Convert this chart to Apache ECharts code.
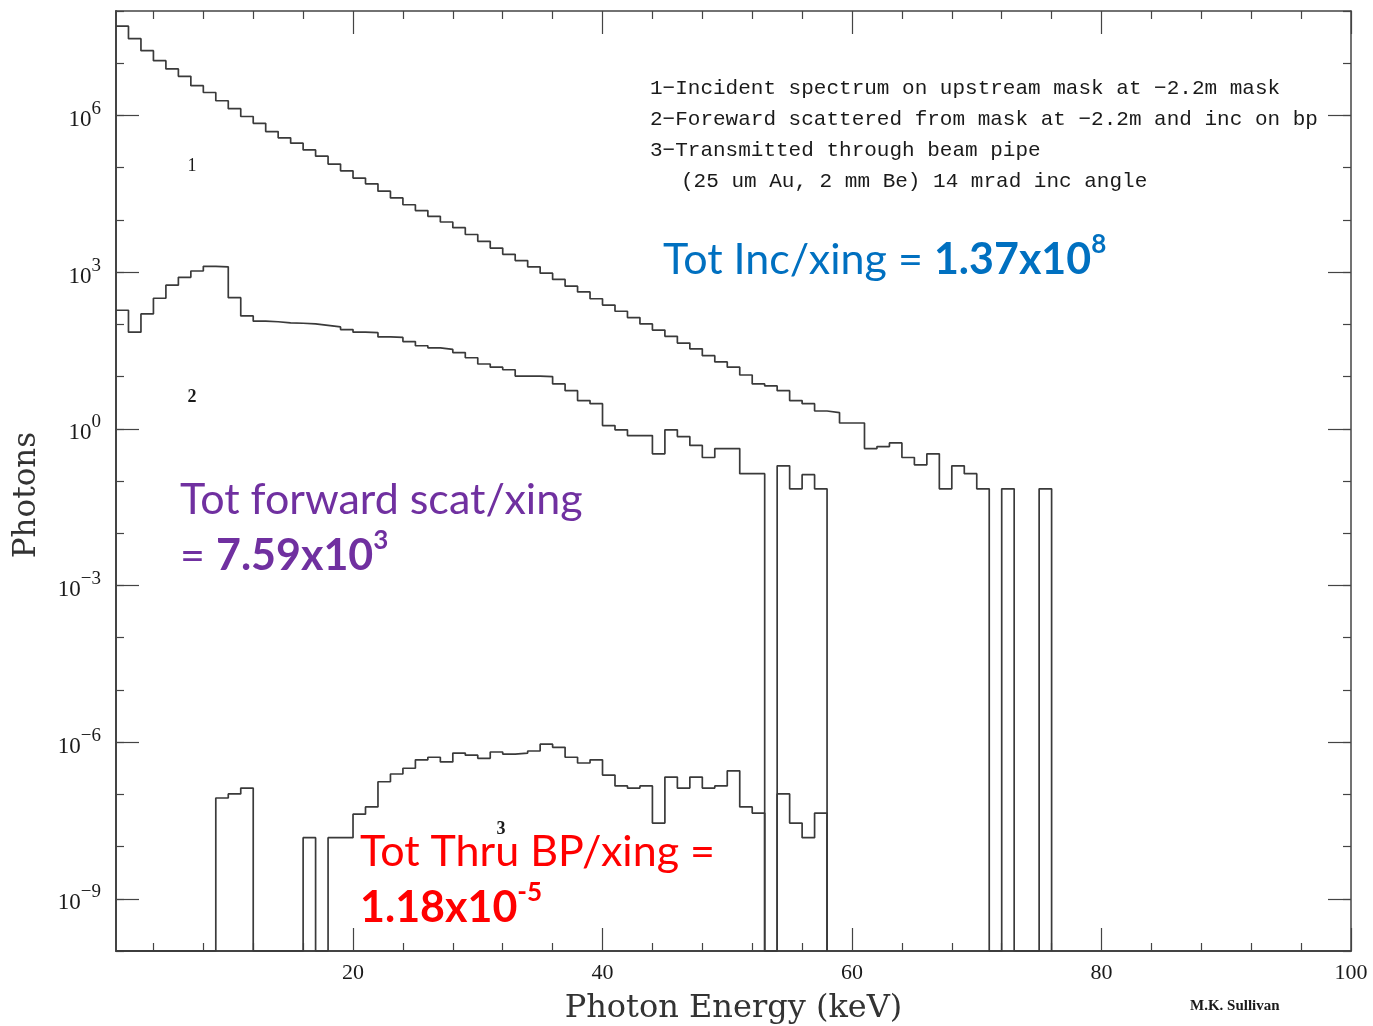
<!DOCTYPE html>
<html>
<head>
<meta charset="utf-8">
<script src="https://cdn.jsdelivr.net/npm/echarts@6/dist/echarts.min.js"></script>
<style>
html,body{margin:0;padding:0;background:#ffffff;}
#chart{width:1373px;height:1026px;}
</style>
</head>
<body>
<div id="chart"></div>
<script>
// ---- Histogram binning (1 keV bins starting at 1 keV) ----
const BIN_START_KEV = 1;
const BIN_WIDTH_KEV = 1;

// ---- Series values (photons per bin); 0 = empty bin ----
// 1 - Incident spectrum on upstream mask (bins 1..75 keV)
const incident = [
  5.13e7, 2.95e7, 1.74e7, 1.12e7, 7.76e6, 5.62e6, 3.72e6, 2.75e6, 1.91e6, 1.35e6,
  9.55e5, 7.08e5, 4.90e5, 3.72e5, 2.95e5, 2.19e5, 1.66e5, 1.17e5, 8.71e4, 6.31e4,
  4.90e4, 3.55e4, 2.63e4, 1.95e4, 1.51e4, 1.17e4, 9.12e3, 7.08e3, 5.25e3, 3.89e3,
  2.88e3, 2.19e3, 1.66e3, 1.26e3, 955, 724, 537, 417, 309, 234,
  178, 135, 102, 77.6, 58.9, 43.7, 33.9, 25.1, 19.1, 15.1,
  10.7, 7.24, 6.61, 5.37, 3.47, 3.02, 2.19, 2.04, 1.29, 1.29,
  0.417, 0.457, 0.537, 0.282, 0.204, 0.331, 0.0708, 0.195, 0.138, 0.0708,
  0, 0.0708, 0, 0, 0.0708
];
// 2 - Forward scattered from mask (bins 1..57 keV)
const forwardScattered = [
  186, 70.8, 158, 316, 562, 794, 1050, 1290, 1260, 324,
  145, 115, 112, 107, 105, 102, 95.5, 89.1, 79.4, 70.8,
  69.2, 57.5, 56.2, 46.8, 38.9, 35.5, 33.1, 28.8, 22.9, 17.4,
  15.1, 13.5, 10.2, 10.2, 10.0, 7.24, 5.37, 3.47, 3.02, 1.15,
  0.955, 0.741, 0.741, 0.331, 0.955, 0.708, 0.479, 0.282, 0.417, 0.417,
  0.138, 0.138, 0, 0.195, 0.0708, 0.132, 0.0708
];
// 3 - Transmitted through beam pipe (bins 1..57 keV)
const transmitted = [
  0, 0, 0, 0, 0, 0, 0, 0, 8.51e-8, 1.02e-7,
  1.32e-7, 0, 0, 0, 0, 1.48e-8, 0, 1.48e-8, 1.48e-8, 4.17e-8,
  5.75e-8, 1.74e-7, 2.45e-7, 3.16e-7, 4.57e-7, 5.13e-7, 4.17e-7, 6.17e-7, 5.62e-7, 4.90e-7,
  6.46e-7, 5.89e-7, 6.17e-7, 6.76e-7, 9.12e-7, 7.94e-7, 5.13e-7, 3.98e-7, 4.57e-7, 2.34e-7,
  1.45e-7, 1.32e-7, 1.45e-7, 2.82e-8, 2.14e-7, 1.32e-7, 2.14e-7, 1.32e-7, 1.45e-7, 2.82e-7,
  5.75e-8, 4.37e-8, 0, 1.02e-7, 2.82e-8, 1.48e-8, 4.37e-8
];

// ---- Axes ----
const X_MIN = 1, X_MAX = 100;
const Y_MIN = 1e-10, Y_MAX = 1e8;
const xMajorTicks = [20, 40, 60, 80, 100];
const xMinorTicks = [4, 8, 12, 16, 24, 28, 32, 36, 44, 48, 52, 56, 64, 68, 72, 76, 84, 88, 92, 96];
const yMajorExponents = [-9, -6, -3, 0, 3, 6];
const yMinorExponents = [-10, -9, -8, -7, -6, -5, -4, -3, -2, -1, 0, 1, 2, 3, 4, 5, 6, 7, 8];
const Y_EXP_MIN = -10, Y_EXP_MAX = 8;

// ---- Texts ----
const legendLines = [
  '1\u2212Incident spectrum on upstream mask at \u22122.2m mask',
  '2\u2212Foreward scattered from mask at \u22122.2m and inc on bp',
  '3\u2212Transmitted through beam pipe',
  '(25 um Au, 2 mm Be) 14 mrad inc angle'
];

function histPoints(vals) {
  const pts = [];
  for (let i = 0; i < vals.length; i++) {
    pts.push([BIN_START_KEV + i * BIN_WIDTH_KEV, vals[i] > 0 ? vals[i] : Y_MIN]);
  }
  const endEdge = BIN_START_KEV + vals.length * BIN_WIDTH_KEV;
  const last = vals[vals.length - 1];
  pts.push([endEdge, last > 0 ? last : Y_MIN]);
  pts.push([endEdge, Y_MIN]);
  return pts;
}

const FRAME = '#444';
const INK = '#1a1a1a';
const LINE = '#3a3a3a';

function xAxisDef(position, ticks, len, withLabels, lineShow, lineWidth) {
  const a = {
    type: 'value', min: X_MIN, max: X_MAX, position: position,
    axisLine: { show: lineShow, onZero: false, lineStyle: { color: FRAME, width: lineWidth } },
    axisTick: { show: true, inside: true, length: len, customValues: ticks, lineStyle: { color: FRAME, width: 1.2 } },
    axisLabel: { show: withLabels },
    splitLine: { show: false }
  };
  if (withLabels) {
    a.axisLabel = { show: true, customValues: ticks, margin: 11, fontFamily: 'Liberation Serif', fontSize: 22, color: INK };
    a.name = 'Photon Energy (keV)';
    a.nameLocation = 'middle';
    a.nameGap = 42;
    a.nameTextStyle = { fontFamily: 'DejaVu Serif', fontSize: 32, color: '#333' };
  }
  return a;
}
function yValAxisDef(position, ticks, len, withLabels, lineShow, lineWidth) {
  const a = {
    type: 'value', min: Y_EXP_MIN, max: Y_EXP_MAX, position: position,
    axisLine: { show: lineShow, onZero: false, lineStyle: { color: FRAME, width: lineWidth } },
    axisTick: { show: true, inside: true, length: len, customValues: ticks, lineStyle: { color: FRAME, width: 1.2 } },
    axisLabel: { show: false },
    splitLine: { show: false }
  };
  if (withLabels) {
    a.axisLabel = {
      show: true, customValues: ticks, margin: 15,
      formatter: function (v) {
        const e = v < 0 ? '\u2212' + (-v) : String(v);
        return '{b|10}{s|' + e + '}';
      },
      rich: {
        b: { fontFamily: 'Liberation Serif', fontSize: 23, color: INK, lineHeight: 32, verticalAlign: 'bottom' },
        s: { fontFamily: 'Liberation Serif', fontSize: 19, color: INK, lineHeight: 16, verticalAlign: 'top' }
      }
    };
  }
  return a;
}

const chart = echarts.init(document.getElementById('chart'), null, { renderer: 'canvas' });

const lineSeries = (name, vals) => ({
  name: name, type: 'line', step: 'end', xAxisIndex: 0, yAxisIndex: 0,
  data: histPoints(vals), symbol: 'none', showSymbol: false, clip: true,
  lineStyle: { color: LINE, width: 1.7 }, animation: false, z: 3
});

const annoFont = 'Lato';
function annoRich(color) {
  return {
    n: { fontFamily: annoFont, fontSize: 43, fill: color, lineHeight: 50, verticalAlign: 'bottom' },
    b: { fontFamily: annoFont, fontSize: 43, fontWeight: 'bold', fill: color, lineHeight: 50, verticalAlign: 'bottom' },
    s: { fontFamily: annoFont, fontSize: 26, fontWeight: 'bold', fill: color, lineHeight: 28, verticalAlign: 'top' }
  };
}
function txt(x, y, text, style, extra) {
  return Object.assign({
    type: 'text', x: x, y: y, z: 10,
    style: Object.assign({ text: text, align: 'left', textAlign: 'left', verticalAlign: 'middle', textVerticalAlign: 'middle' }, style)
  }, extra || {});
}

const legendFont = '21px "Liberation Mono"';
const graphics = [
  txt(650, 88, legendLines[0], { font: legendFont, fill: INK }),
  txt(650, 119, legendLines[1], { font: legendFont, fill: INK }),
  txt(650, 150, legendLines[2], { font: legendFont, fill: INK }),
  txt(681, 181, legendLines[3], { font: legendFont, fill: INK }),
  txt(192, 166, '1', { font: '18px "Liberation Serif"', fill: INK, align: 'center', textAlign: 'center' }),
  txt(192, 397, '2', { font: 'bold 18px "Liberation Serif"', fill: INK, align: 'center', textAlign: 'center' }),
  txt(501, 829, '3', { font: 'bold 18px "Liberation Serif"', fill: INK, align: 'center', textAlign: 'center' }),
  txt(27, 495, 'Photons', { font: '31px "DejaVu Serif"', fill: '#333', align: 'center', textAlign: 'center' }, { rotation: Math.PI / 2 }),
  txt(1190, 1006, 'M.K. Sullivan', { font: 'bold 15px "Liberation Serif"', fill: INK }),
  txt(663, 257, '{n|Tot Inc/xing = }{b|1.37x10}{s|8}', { rich: annoRich('#0070C0') }),
  txt(180, 497, '{n|Tot forward scat/xing}', { rich: annoRich('#7030A0') }),
  txt(180, 553, '{n|= }{b|7.59x10}{s|3}', { rich: annoRich('#7030A0') }),
  txt(360, 849, '{n|Tot Thru BP/xing =}', { rich: annoRich('#FF0000') }),
  txt(360, 905, '{b|1.18x10}{s|-5}', { rich: annoRich('#FF0000') })
];

chart.setOption({
  backgroundColor: '#ffffff',
  animation: false,
  grid: { left: 116, right: 22, top: 11, bottom: 75, containLabel: false, outerBoundsMode: 'none' },
  xAxis: [
    xAxisDef('bottom', xMajorTicks, 23, true, true, 2),
    xAxisDef('bottom', xMinorTicks, 8, false, false, 1),
    xAxisDef('top', xMajorTicks, 23, false, true, 1.5),
    xAxisDef('top', xMinorTicks, 8, false, false, 1)
  ],
  yAxis: [
    {
      type: 'log', logBase: 10, min: Y_MIN, max: Y_MAX, position: 'left',
      axisLine: { show: true, onZero: false, lineStyle: { color: FRAME, width: 2 } },
      axisTick: { show: false }, axisLabel: { show: false }, splitLine: { show: false }, minorTick: { show: false }
    },
    yValAxisDef('left', yMinorExponents, 8, false, false, 1),
    yValAxisDef('left', yMajorExponents, 23, true, false, 1),
    yValAxisDef('right', yMinorExponents, 8, false, true, 1.5),
    yValAxisDef('right', yMajorExponents, 23, false, false, 1)
  ],
  series: [
    lineSeries('Incident', incident),
    lineSeries('Forward scattered', forwardScattered),
    lineSeries('Transmitted', transmitted)
  ],
  graphic: graphics
});
</script>
</body>
</html>
